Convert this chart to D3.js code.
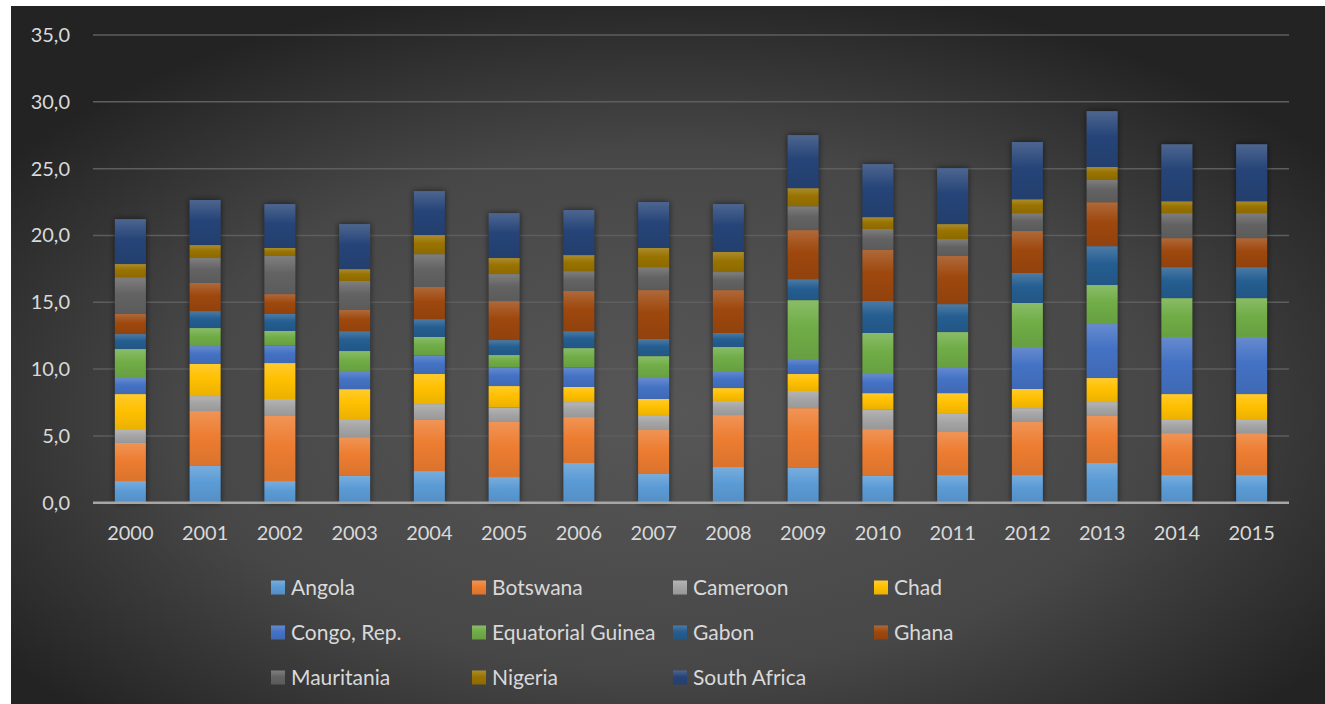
<!DOCTYPE html>
<html>
<head>
<meta charset="utf-8">
<script src="https://cdn.jsdelivr.net/npm/d3@7"></script>
<style>
  body { margin: 0; background: #fff; }
  svg { display: block; }
  text { font-family: Lato, "Open Sans", sans-serif; fill: #d9d9d9; }
</style>
</head>
<body>
<svg id="chart"></svg>
<script>
const width = 1325;
const height = 704;

// data
const years = ["2000","2001","2002","2003","2004","2005","2006","2007","2008","2009","2010","2011","2012","2013","2014","2015"];
const countries = ["Angola","Botswana","Cameroon","Chad","Congo, Rep.","Equatorial Guinea","Gabon","Ghana","Mauritania","Nigeria","South Africa"];
const angola     = [1.62,2.75,1.62,2.00,2.37,1.92,2.97,2.15,2.67,2.60,2.00,2.07,2.07,2.97,2.07,2.07];
const botswana   = [2.85,4.11,4.87,2.91,3.82,4.12,3.44,3.29,3.89,4.48,3.51,3.22,3.97,3.52,3.14,3.14];
const cameroon   = [0.97,1.12,1.27,1.35,1.19,1.10,1.12,1.05,1.05,1.28,1.49,1.35,1.04,1.04,0.98,0.98];
const chad       = [2.69,2.40,2.69,2.24,2.25,1.59,1.13,1.27,0.97,1.27,1.20,1.56,1.43,1.80,1.94,1.94];
const congo      = [1.20,1.34,1.33,1.35,1.40,1.40,1.47,1.57,1.27,1.12,1.43,1.95,3.14,4.04,4.27,4.27];
const eqGuinea   = [2.17,1.35,1.07,1.50,1.37,0.92,1.44,1.64,1.80,4.41,3.07,2.62,3.30,2.92,2.91,2.91];
const gabon      = [1.12,1.27,1.27,1.49,1.34,1.12,1.27,1.28,1.05,1.57,2.39,2.09,2.24,2.91,2.32,2.32];
const ghana      = [1.50,2.10,1.49,1.58,2.40,2.92,3.00,3.66,3.21,3.67,3.82,3.60,3.14,3.29,2.17,2.17];
const mauritania = [2.76,1.87,2.85,2.17,2.46,2.02,1.49,1.72,1.35,1.79,1.57,1.27,1.34,1.71,1.87,1.87];
const nigeria    = [0.98,0.97,0.60,0.89,1.43,1.20,1.20,1.43,1.50,1.35,0.89,1.12,1.04,0.92,0.89,0.89];
const southAfrica= [3.36,3.37,3.29,3.37,3.29,3.36,3.37,3.44,3.59,3.97,3.97,4.19,4.28,4.18,4.26,4.26];
const yTicks = [0,5,10,15,20,25,30,35];

const colors = ["#5b9bd5","#ed7d31","#a5a5a5","#ffc000","#4472c4","#70ad47","#255e91","#9e480e","#636363","#997300","#264478"];

const seriesValues = [angola,botswana,cameroon,chad,congo,eqGuinea,gabon,ghana,mauritania,nigeria,southAfrica];
const rows = years.map((y, i) => {
    const r = {year: y};
    countries.forEach((c, j) => { r[c] = seriesValues[j][i]; });
    return r;
});

const svg = d3.select("#chart").attr("width", width).attr("height", height);
const defs = svg.append("defs");

// background
const bg = defs.append("radialGradient").attr("id", "bg")
    .attr("cx", "50%").attr("cy", "58%").attr("r", "62%");
bg.append("stop").attr("offset", "0%").attr("stop-color", "#575757");
bg.append("stop").attr("offset", "60%").attr("stop-color", "#474747");
bg.append("stop").attr("offset", "100%").attr("stop-color", "#232323");
svg.append("rect").attr("x", 11).attr("y", 6).attr("width", width - 11).attr("height", height - 6)
    .attr("fill", "url(#bg)");

// segment gradients (lighter at top)
colors.forEach((c, i) => {
    const g = defs.append("linearGradient").attr("id", "g" + i)
        .attr("x1", 0).attr("y1", 0).attr("x2", 0).attr("y2", 1);
    g.append("stop").attr("offset", "0%").attr("stop-color", d3.interpolateRgb(c, "#fff")(0.18));
    g.append("stop").attr("offset", "45%").attr("stop-color", c);
    g.append("stop").attr("offset", "100%").attr("stop-color", d3.interpolateRgb(c, "#000")(0.08));
});

const shadow = defs.append("filter").attr("id", "shadow")
    .attr("x", "-40%").attr("y", "-10%").attr("width", "180%").attr("height", "120%");
shadow.append("feDropShadow").attr("dx", 0).attr("dy", 0).attr("stdDeviation", 3)
    .attr("flood-color", "#000").attr("flood-opacity", 0.6);

const x = d3.scaleBand().domain(years).range([93, 1289]).paddingInner(0.585).paddingOuter(0.2925);
const y = d3.scaleLinear().domain([0, 35]).range([502.7, 35]);

// grid
svg.append("g").selectAll("line").data(yTicks.filter(d => d > 0)).join("line")
    .attr("x1", 93).attr("x2", 1289)
    .attr("y1", d => y(d)).attr("y2", d => y(d))
    .attr("stroke", "#5e5e5e").attr("stroke-width", 1.5);

// y labels
svg.append("g").selectAll("text").data(yTicks).join("text")
    .attr("x", 70).attr("y", d => y(d)).attr("dy", "0.35em")
    .attr("text-anchor", "end").style("font-size", "20px")
    .text(d => d3.format(".1f")(d).replace(".", ","));

// shadow behind each full bar
svg.append("g").selectAll("rect").data(rows).join("rect")
    .attr("x", d => x(d.year))
    .attr("width", x.bandwidth())
    .attr("y", d => y(d3.sum(countries, c => d[c])))
    .attr("height", d => y(0) - y(d3.sum(countries, c => d[c])))
    .attr("fill", "#333").attr("filter", "url(#shadow)");

// bars
const stack = d3.stack().keys(countries);
const layers = stack(rows);

svg.append("g").selectAll("g").data(layers).join("g")
    .attr("fill", (d, i) => "url(#g" + i + ")")
    .selectAll("rect").data(d => d).join("rect")
    .attr("x", d => x(d.data.year))
    .attr("width", x.bandwidth())
    .attr("y", d => y(d[1]))
    .attr("height", d => y(d[0]) - y(d[1]));

// baseline
svg.append("line").attr("x1", 93).attr("x2", 1289)
    .attr("y1", y(0)).attr("y2", y(0))
    .attr("stroke", "#a6a6a6").attr("stroke-width", 2.5);

// x labels
svg.append("g").selectAll("text").data(years).join("text")
    .attr("x", d => x(d) + x.bandwidth() / 2).attr("y", 533).attr("dy", "0.35em")
    .attr("text-anchor", "middle").style("font-size", "20px")
    .text(d => d);

// legend, 4 per row
const legendCols = [271, 472, 673, 874];
const legendRows = [587.5, 632.5, 677.5];
const legend = svg.append("g").selectAll("g").data(countries).join("g")
    .attr("transform", (d, i) => `translate(${legendCols[i % 4]},${legendRows[Math.floor(i / 4)]})`);
legend.append("rect").attr("x", 0).attr("y", -7).attr("width", 14).attr("height", 14)
    .attr("fill", (d, i) => "url(#g" + i + ")");
legend.append("text").attr("x", 20).attr("dy", "0.35em").style("font-size", "21px").text(d => d);
</script>
</body>
</html>
